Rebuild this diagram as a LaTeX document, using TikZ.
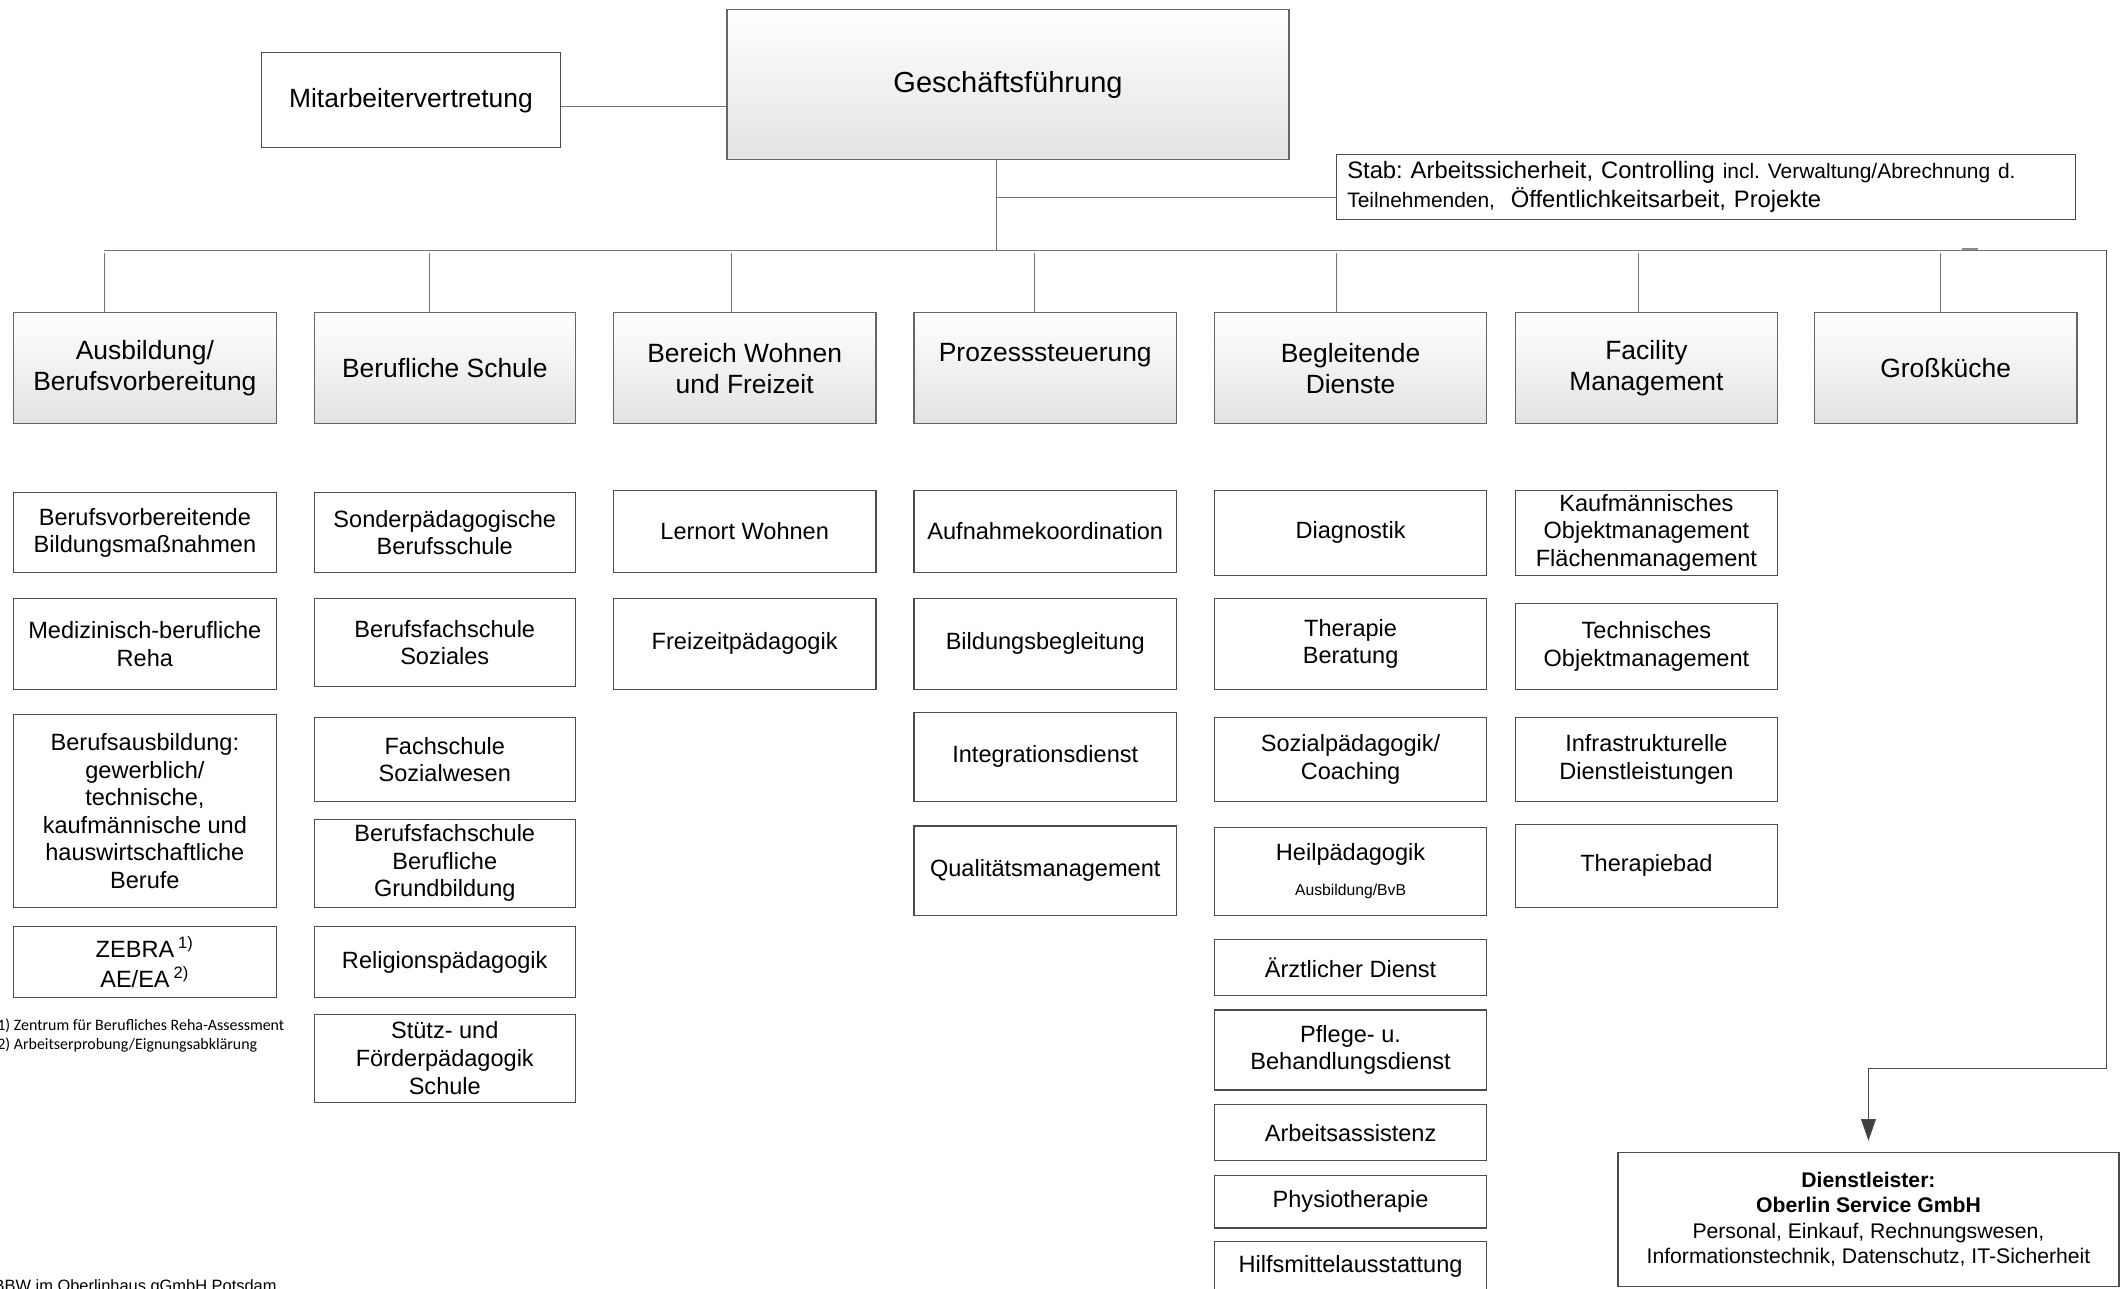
\documentclass[tikz,border=0pt]{standalone}
\usepackage{fontspec}
\setmainfont{Liberation Sans}
\newfontfamily\calib{Carlito}
\usetikzlibrary{arrows.meta,shadings}
\frenchspacing
\newcommand{\orgbox}[7]{%
  \node[#1, minimum width={(#5-#3)*0.02cm}, minimum height={(#6-#4)*0.02cm}] (#2) at ({(#3+#5)/2},{(#4+#6)/2}) {#7};}
\begin{document}
\begin{tikzpicture}[x=0.02cm,y=-0.02cm,
  conn/.style={draw=black!55, line width=0.45pt},
  sub/.style={draw=black!70, line width=0.5pt, fill=white, inner sep=0pt, align=center, font=\fontsize{9.9}{11.6}\selectfont},
  head/.style={draw=black!60, line width=0.5pt, top color=white, bottom color=black!11, inner sep=0pt, align=center, font=\fontsize{11.1}{13}\selectfont}]
\fill[white] (0,0) rectangle (1568,952);
\useasboundingbox (0,0) rectangle (1568,952);

% top level
\orgbox{head,font=\fontsize{12.2}{14}\selectfont}{gf}{537}{7}{952}{118}{Geschäftsführung}
\orgbox{sub,font=\fontsize{11.1}{13}\selectfont}{mv}{193}{39}{414}{109}{Mitarbeitervertretung}
\orgbox{sub,align=left,text width=10.6cm,inner xsep=0.16cm,font=\fontsize{10}{12.5}\selectfont}{stab}{987}{114}{1533}{162}{Stab: Arbeitssicherheit, Controlling {\fontsize{8.8}{12.5}\selectfont incl. Verwaltung/Abrechnung d.}\\{\fontsize{8.8}{12.5}\selectfont Teilnehmenden,}\ \ Öffentlichkeitsarbeit, Projekte}

% divisions
\orgbox{head}{h1}{10}{231}{204}{313}{Ausbildung/\\Berufsvorbereitung}
\orgbox{head}{h2}{232}{231}{425}{313}{Berufliche Schule}
\orgbox{head}{h3}{453}{231}{647}{313}{Bereich Wohnen\\und Freizeit}
\orgbox{head}{h4}{675}{231}{869}{313}{Prozesssteuerung\\\mbox{}}
\orgbox{head}{h5}{897}{231}{1098}{313}{Begleitende\\Dienste}
\orgbox{head}{h6}{1119}{231}{1313}{313}{Facility\\Management}
\orgbox{head}{h7}{1340}{231}{1534}{313}{Großküche}

% column 1
\orgbox{sub}{a1}{10}{364}{204}{423}{Berufsvorbereitende\\Bildungsmaßnahmen}
\orgbox{sub}{a2}{10}{442}{204}{509}{Medizinisch-berufliche\\Reha}
\orgbox{sub}{a3}{10}{528}{204}{670}{Berufsausbildung:\\gewerblich/\\technische,\\kaufmännische und\\hauswirtschaftliche\\Berufe}
\orgbox{sub}{a4}{10}{684}{204}{737}{ZEBRA\,\textsuperscript{1)}\\[1pt]AE/EA\,\textsuperscript{2)}}
\node[anchor=west, align=left, inner sep=0pt, font=\calib\fontsize{6.7}{7.9}\selectfont] (fn) at (-2.3,765) {1) Zentrum für Berufliches Reha-Assessment\\2) Arbeitserprobung/Eignungsabklärung};

% column 2
\orgbox{sub}{b1}{232}{364}{425}{423}{Sonderpädagogische\\Berufsschule}
\orgbox{sub}{b2}{232}{442}{425}{507}{Berufsfachschule\\Soziales}
\orgbox{sub}{b3}{232}{530}{425}{592}{Fachschule\\Sozialwesen}
\orgbox{sub}{b4}{232}{605}{425}{670}{Berufsfachschule\\Berufliche\\Grundbildung}
\orgbox{sub}{b5}{232}{684}{425}{737}{Religionspädagogik}
\orgbox{sub}{b6}{232}{749}{425}{814}{Stütz- und\\Förderpädagogik\\Schule}

% column 3
\orgbox{sub}{c1}{453}{362}{647}{423}{Lernort Wohnen}
\orgbox{sub}{c2}{453}{442}{647}{509}{Freizeitpädagogik}

% column 4
\orgbox{sub}{p1}{675}{362}{869}{423}{Aufnahmekoordination}
\orgbox{sub}{p2}{675}{442}{869}{509}{Bildungsbegleitung}
\orgbox{sub}{p3}{675}{526}{869}{592}{Integrationsdienst}
\orgbox{sub}{p4}{675}{610}{869}{676}{Qualitätsmanagement}

% column 5
\orgbox{sub}{e1}{897}{362}{1098}{425}{Diagnostik}
\orgbox{sub}{e2}{897}{442}{1098}{509}{Therapie\\Beratung}
\orgbox{sub}{e3}{897}{530}{1098}{592}{Sozialpädagogik/\\Coaching}
\orgbox{sub}{e4}{897}{611}{1098}{676}{Heilpädagogik\\[3pt]{\fontsize{6.6}{8}\selectfont Ausbildung/BvB}}
\orgbox{sub}{e5}{897}{694}{1098}{735}{Ärztlicher Dienst}
\orgbox{sub}{e6}{897}{746}{1098}{805}{Pflege- u.\\Behandlungsdienst}
\orgbox{sub}{e7}{897}{816}{1098}{857}{Arbeitsassistenz}
\orgbox{sub}{e8}{897}{868}{1098}{907}{Physiotherapie}
\orgbox{sub}{e9}{897}{917}{1098}{992}{}
\node[inner sep=0pt, font=\fontsize{9.9}{11.6}\selectfont] (e9t) at (997.5,935.5) {Hilfsmittelausstattung};

% column 6
\orgbox{sub}{f1}{1119}{362}{1313}{425}{Kaufmännisches\\Objektmanagement\\Flächenmanagement}
\orgbox{sub}{f2}{1119}{446}{1313}{509}{Technisches\\Objektmanagement}
\orgbox{sub}{f3}{1119}{530}{1313}{592}{Infrastrukturelle\\Dienstleistungen}
\orgbox{sub}{f4}{1119}{609}{1313}{670}{Therapiebad}

% service provider
\orgbox{sub,font=\fontsize{8.9}{10.6}\selectfont}{dl}{1195}{851}{1565}{950}{\textbf{Dienstleister:}\\\textbf{Oberlin Service GmbH}\\Personal, Einkauf, Rechnungswesen,\\Informationstechnik, Datenschutz, IT-Sicherheit}

\node[anchor=base west, inner sep=0pt, font=\fontsize{6.9}{8}\selectfont] (ft) at (-5,953.5) {BBW im Oberlinhaus gGmbH Potsdam};

% connectors
\coordinate (busL) at (77,185);
\coordinate (busR) at (1556,185);
\coordinate (busC) at (736,185);
\coordinate (stabJ) at (736,146);
\coordinate (mvJ) at (475,79);
\coordinate (rc) at (1556,789);
\coordinate (rb) at (1380,789);
\draw[conn] (busL) -- (busR);
\draw[conn] (gf.south -| busC) -- (busC);
\draw[conn] (stabJ) -- (stabJ -| stab.west);
\draw[conn] (mvJ -| mv.east) -- (mvJ -| gf.west);
\foreach \n/\x in {h1/77,h2/317,h3/540,h4/764,h5/987,h6/1210,h7/1433}{
  \coordinate (d\n) at (\x,187);
  \draw[conn] (d\n) -- (d\n |- \n.north);
}
\draw[black!45, line width=0.9pt] (1449,184) -- (1461,184);
\draw[draw=black!70, line width=0.5pt, -{Triangle[length=0.32cm,width=0.22cm,fill=black!75]}, shorten >=0.16cm] (busR) -- (rc) -- (rb) -- (dl.north);
\end{tikzpicture}
\end{document}
